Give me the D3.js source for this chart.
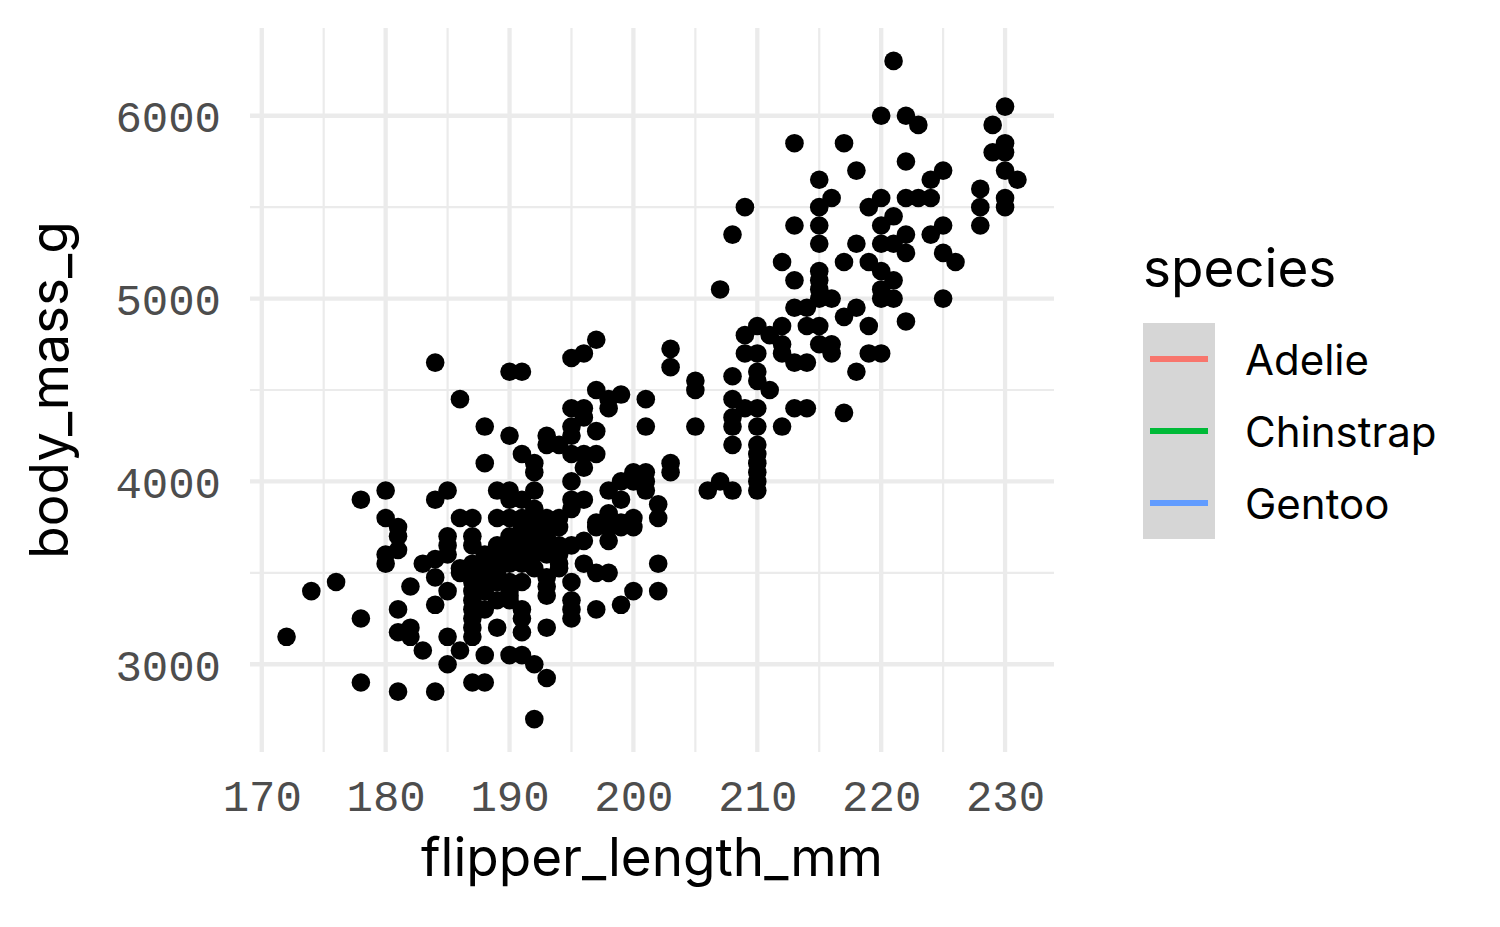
<!DOCTYPE html>
<html lang='en'>
<head>
	<meta charset = 'utf-8'>
	<script type = 'text/javascript' src='https://d3js.org/d3.v7.min.js'></script>
	<style type = 'text/css'>
		body{
			margin:0;
			background:white;
		}
		.axis-title{
			font-family:Inter, 'Noto Sans', sans-serif;
			font-size:53px;
			fill:black;
		}
		.tick-label{
			font-family:'Liberation Mono', 'DejaVu Sans Mono', monospace;
			font-size:44px;
			fill:#4D4D4D;
		}
		.legend-title{
			font-family:Inter, 'Noto Sans', sans-serif;
			font-size:53px;
		}
		.legend-label{
			font-family:Inter, 'Noto Sans', sans-serif;
			font-size:42px;
		}
	</style>
</head>
<body>
	<div id = 'chart'></div>

	<script type = 'text/javascript'>
		//values, flipper length (mm) and body mass (g), point by point
		var flipper = [
			221,220,222,223,230,229,230,230,229,230,231,222,218,225,224,228,228,228,230,230,
			220,219,222,223,224,221,220,225,224,222,218,220,221,222,225,219,226,220,221,220,
			220,221,225,218,222,219,219,220,218,213,217,215,216,209,215,213,215,208,215,212,
			217,213,215,215,215,215,207,216,213,214,212,214,215,217,210,209,211,212,209,210,
			212,215,216,216,213,214,208,210,210,211,205,205,208,209,210,213,214,217,208,208,
			210,212,205,208,210,210,210,210,210,210,208,206,207,
			172,174,176,178,178,178,180,180,180,180,181,181,181,181,181,181,182,182,182,183,
			183,184,184,184,184,184,184,185,185,185,185,185,185,185,186,186,186,186,186,187,
			187,187,187,187,187,187,187,187,187,187,187,187,188,188,188,188,188,188,188,189,
			189,189,189,189,189,190,190,190,190,190,190,190,190,190,190,190,190,190,191,191,
			191,191,191,191,191,191,191,191,191,191,191,192,192,192,192,192,192,192,192,192,
			193,193,193,193,193,193,193,193,193,193,194,194,194,194,194,
			188,188,188,189,189,189,190,191,191,192,192,193,193,194,194,
			195,195,195,195,195,195,195,195,195,195,195,195,195,
			196,196,196,196,196,196,196,196,
			197,197,197,197,197,197,197,197,
			198,198,198,198,198,198,198,
			199,199,199,199,199,199,
			200,200,200,200,200,
			201,201,201,201,201,
			202,202,202,202,
			203,203,203,203
		];
		var bodyMass = [
			6300,6000,6000,5950,6050,5950,5850,5800,5800,5700,5650,5750,5700,5700,5650,5600,5500,5400,5550,5500,
			5550,5500,5550,5550,5550,5450,5400,5400,5350,5350,5300,5300,5300,5250,5250,5200,5200,5150,5100,5050,
			5000,5000,5000,4950,4875,4850,4700,4700,4600,5850,5850,5650,5550,5500,5500,5400,5400,5350,5300,5200,
			5200,5100,5150,5100,5050,5000,5050,5000,4950,4950,4850,4850,4850,4900,4850,4800,4800,4750,4700,4700,
			4700,4750,4750,4700,4650,4650,4575,4600,4550,4500,4550,4500,4450,4400,4400,4400,4400,4375,4350,4300,
			4300,4300,4300,4200,4200,4150,4100,4050,4000,3950,3950,3950,4000,
			3150,3400,3450,3900,3250,2900,3950,3800,3600,3550,3750,3700,3625,3300,3175,2850,3425,3200,3150,3550,
			3075,4650,3900,3575,3475,3325,2850,3950,3700,3650,3600,3400,3150,3000,4450,3800,3525,3500,3075,3800,
			3700,3650,3550,3500,3450,3400,3350,3300,3250,3200,3150,2900,4300,4100,3600,3450,3300,3050,2900,3950,
			3800,3650,3500,3350,3200,4600,4250,3950,3900,3800,3700,3650,3575,3450,3375,3350,3050,3400,4600,4150,
			3900,3800,3750,3725,3700,3550,3450,3300,3250,3175,3050,4100,4050,3950,3800,3725,3600,3525,3000,2700,
			4250,4200,3800,3650,3600,3475,3425,3375,3200,2925,4200,3800,3750,3550,3525,
			3550,3500,3400,3600,3550,3450,3550,3650,3600,3850,3650,3750,3700,3650,3600,
			4675,4400,4300,4250,4150,4000,3900,3850,3650,3450,3350,3300,3250,
			4700,4400,4350,4150,4075,3900,3675,3550,
			4775,4500,4275,4150,3775,3750,3500,3300,
			4450,4400,3950,3825,3750,3675,3500,
			4475,4000,3900,3775,3750,3325,
			4050,4000,3800,3750,3400,
			4450,4300,4050,4000,3950,
			3875,3800,3550,3400,
			4725,4625,4100,4050
		];

		//tick values
		var xTicks = [170, 180, 190, 200, 210, 220, 230];
		var yTicks = [3000, 4000, 5000, 6000];

		//legend entries
		var speciesNames = ['Adelie', 'Chinstrap', 'Gentoo'];
		var speciesColors = ['#F8766D', '#00BA38', '#619CFF'];

		var width = 1500,
			height = 927;

		//panel box
		var panel = {left: 250, right: 1054, top: 28, bottom: 752};

		var points = flipper.map(function(f, i){ return {x: f, y: bodyMass[i]}; });

		//ggplot style 5% expansion of the data range
		function expand(ext){
			var pad = (ext[1] - ext[0]) * 0.05;
			return [ext[0] - pad, ext[1] + pad];
		}

		var x = d3.scaleLinear()
					.domain(expand(d3.extent(flipper)))
					.range([panel.left, panel.right]);

		var y = d3.scaleLinear()
					.domain(expand(d3.extent(bodyMass)))
					.range([panel.bottom, panel.top]);

		var svg = d3.select('#chart')
			.append('svg')
			.attr('width', width)
			.attr('height', height);

		//minor grid at midpoints of the major ticks
		var xMinor = d3.range(xTicks[0] - 5, xTicks[xTicks.length - 1] + 10, 10)
						.filter(function(d){ return d > x.domain()[0] && d < x.domain()[1]; });
		var yMinor = d3.range(yTicks[0] - 500, yTicks[yTicks.length - 1] + 1000, 1000)
						.filter(function(d){ return d > y.domain()[0] && d < y.domain()[1]; });

		var grid = svg.append('g').attr('class', 'grid');

		grid.selectAll('.x-minor')
			.data(xMinor)
			.enter()
			.append('line')
			.attr('x1', function(d){ return x(d); })
			.attr('x2', function(d){ return x(d); })
			.attr('y1', panel.top)
			.attr('y2', panel.bottom)
			.style('stroke', '#EBEBEB')
			.style('stroke-width', 2.2);

		grid.selectAll('.y-minor')
			.data(yMinor)
			.enter()
			.append('line')
			.attr('x1', panel.left)
			.attr('x2', panel.right)
			.attr('y1', function(d){ return y(d); })
			.attr('y2', function(d){ return y(d); })
			.style('stroke', '#EBEBEB')
			.style('stroke-width', 2.2);

		grid.selectAll('.x-major')
			.data(xTicks)
			.enter()
			.append('line')
			.attr('x1', function(d){ return x(d); })
			.attr('x2', function(d){ return x(d); })
			.attr('y1', panel.top)
			.attr('y2', panel.bottom)
			.style('stroke', '#EBEBEB')
			.style('stroke-width', 4.3);

		grid.selectAll('.y-major')
			.data(yTicks)
			.enter()
			.append('line')
			.attr('x1', panel.left)
			.attr('x2', panel.right)
			.attr('y1', function(d){ return y(d); })
			.attr('y2', function(d){ return y(d); })
			.style('stroke', '#EBEBEB')
			.style('stroke-width', 4.3);

		//points
		svg.append('g')
			.selectAll('circle')
			.data(points)
			.enter()
			.append('circle')
			.attr('cx', function(d){ return x(d.x); })
			.attr('cy', function(d){ return y(d.y); })
			.attr('r', 9.3)
			.style('fill', 'black');

		//axes, drawn with d3 axis generators and then stripped down to the labels
		var xAxis = svg.append('g')
			.attr('transform', 'translate(0,' + panel.bottom + ')')
			.call(d3.axisBottom(x).tickValues(xTicks).tickFormat(d3.format('d')).tickSize(0).tickPadding(0));
		xAxis.select('.domain').remove();
		xAxis.selectAll('text')
			.attr('class', 'tick-label')
			.attr('y', 59)
			.attr('dy', 0)
			.attr('text-anchor', 'middle');

		var yAxis = svg.append('g')
			.attr('transform', 'translate(' + panel.left + ',0)')
			.call(d3.axisLeft(y).tickValues(yTicks).tickFormat(d3.format('d')).tickSize(0).tickPadding(0));
		yAxis.select('.domain').remove();
		yAxis.selectAll('text')
			.attr('class', 'tick-label')
			.attr('x', -29)
			.attr('dy', '0.36em')
			.attr('text-anchor', 'end');

		//let the css classes style the axis text
		svg.selectAll('.tick-label')
			.attr('fill', '#4D4D4D')
			.attr('font-size', null)
			.attr('font-family', null);
		xAxis.attr('font-size', null).attr('font-family', null);
		yAxis.attr('font-size', null).attr('font-family', null);

		//axis titles
		svg.append('text')
			.attr('class', 'axis-title')
			.attr('x', (panel.left + panel.right) / 2)
			.attr('y', 876)
			.attr('text-anchor', 'middle')
			.text('flipper_length_mm');

		svg.append('text')
			.attr('class', 'axis-title')
			.attr('transform', 'translate(68,' + (panel.top + panel.bottom) / 2 + ') rotate(-90)')
			.attr('text-anchor', 'middle')
			.text('body_mass_g');

		//legend
		var legend = svg.append('g')
						.attr('class', 'legend')
						.attr('transform', 'translate(1143,323)');

		var keySize = 72;

		legend.append('text')
			.attr('class', 'legend-title')
			.attr('x', 0)
			.attr('y', -36)
			.text('species');

		legend.append('rect')
			.attr('x', 0)
			.attr('y', 0)
			.attr('width', keySize)
			.attr('height', keySize * speciesNames.length)
			.style('fill', '#D6D6D6');

		legend.selectAll('.legend-line')
			.data(speciesNames)
			.enter()
			.append('line')
			.attr('class', 'legend-line')
			.attr('x1', 7)
			.attr('x2', keySize - 7)
			.attr('y1', function(d, i){ return keySize * i + keySize / 2; })
			.attr('y2', function(d, i){ return keySize * i + keySize / 2; })
			.style('stroke', function(d, i){ return speciesColors[i]; })
			.style('stroke-width', 6);

		legend.selectAll('.legend-label')
			.data(speciesNames)
			.enter()
			.append('text')
			.attr('class', 'legend-label')
			.attr('x', 102)
			.attr('y', function(d, i){ return keySize * i + keySize / 2 + 16; })
			.text(function(d){ return d; });
	</script>
</body>
</html>
